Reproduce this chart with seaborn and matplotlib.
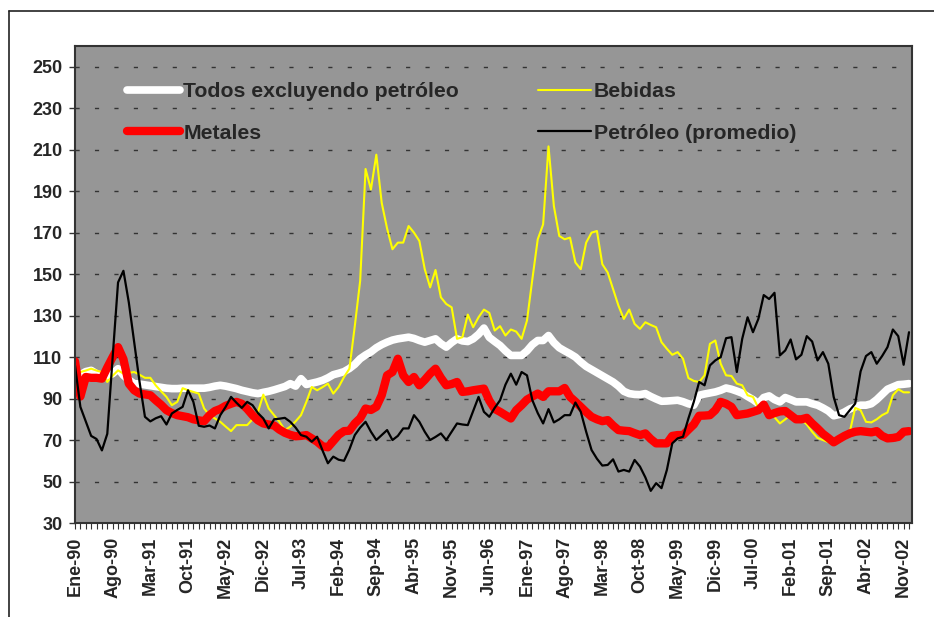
import numpy as np
import pandas as pd
import matplotlib
matplotlib.use("Agg")
import matplotlib.pyplot as plt
import seaborn as sns
from matplotlib.lines import Line2D

# Etiquetas del eje x (cada 7 meses)
tick_labels = ["Ene-90", "Ago-90", "Mar-91", "Oct-91", "May-92", "Dic-92", "Jul-93",
               "Feb-94", "Sep-94", "Abr-95", "Nov-95", "Jun-96", "Ene-97", "Ago-97",
               "Mar-98", "Oct-98", "May-99", "Dic-99", "Jul-00", "Feb-01", "Sep-01",
               "Abr-02", "Nov-02"]

# Series mensuales Ene-90 .. Dic-02
todos = [99, 101.5, 103, 103.6, 102, 100.4, 101, 102, 104.4, 101.2,
         99, 97.2, 97, 96.6, 96.2, 95.8, 95.4, 95, 94.8, 94.8,
         95, 95, 95, 95, 95, 95.4, 96, 96.4, 96, 95.4,
         94.8, 94, 93.4, 92.8, 92.4, 93, 93.5, 94.2, 95, 95.8,
         97.2, 96, 99.6, 96.8, 97.4, 98, 98.8, 100, 101.5, 102.2,
         103, 104.5, 106.5, 109.2, 111, 112.5, 114.5, 116, 117.2, 118.2,
         118.8, 119.2, 119.6, 119, 118, 117.2, 118, 118.8, 116.5, 114.8,
         117, 118.8, 117.8, 117.5, 118.8, 121, 124, 119.5, 117.5, 115.6,
         113, 110.8, 110.8, 110.8, 113, 116, 118, 118, 120.4, 117,
         114.5, 113, 111.6, 110, 107.6, 105.5, 104, 102.5, 101, 99.5,
         98, 96, 93.5, 92.4, 92, 91.9, 92.4, 91, 89.8, 88.7,
         88.8, 89, 89.2, 88.5, 87.5, 86.8, 91.6, 92.2, 92.7, 93.2,
         94, 95.1, 94.5, 93.6, 92.6, 91, 89.5, 87.6, 90.5, 91.3,
         89.5, 88.4, 90.5, 89.5, 88.4, 88.4, 88.4, 87.5, 86.8, 85.5,
         84, 81.7, 82.3, 83.5, 85, 86, 86.8, 86.8, 87.5, 89.5,
         92, 94.5, 95.6, 96.7, 96.9, 97.2]

bebidas = [100, 102.8, 103.5, 104.4, 103.5, 102.8, 98, 101, 103.6, 102,
           102.4, 102.8, 101.5, 100, 100, 96.4, 93.5, 90.8, 86.8, 88.4,
           95, 94, 93.2, 92.4, 85.2, 82, 80.4, 78.8, 76.5, 74.3,
           77.2, 77.2, 77.2, 80, 83.6, 91.9, 85.2, 82, 78.8, 74.8,
           76.4, 79, 82, 88.4, 95.6, 94, 95.5, 97.2, 92.4, 95.6,
           100.4, 104.4, 125, 146.8, 200.7, 190.8, 207.6, 184.4, 172, 162,
           165.2, 165.2, 173.2, 170, 166, 152.4, 143.6, 152, 138.8, 135.6,
           134, 118.8, 119.6, 130.5, 124.4, 129.2, 132.9, 131.3, 122.8, 124.9,
           120.4, 123.3, 122.3, 118.8, 127.6, 147.6, 166.8, 174, 211.6, 182.8,
           168.4, 166.8, 167.6, 155.6, 152.4, 165.2, 170, 170.8, 154.8, 150.8,
           142.8, 134.8, 128.4, 132.9, 126, 123.6, 126.8, 125.5, 124.4, 117.2,
           114, 111.1, 112.4, 109.2, 99.9, 98.5, 98, 101.2, 116.4, 118,
           106.8, 101.2, 100.9, 97.2, 96.4, 91.6, 90.8, 85.5, 84.5, 83.6,
           81, 78, 80, 82, 81, 80, 77.5, 74, 71, 70,
           69, 70, 71, 72, 74, 85.5, 84.4, 78.8, 78.5, 80,
           82, 83.3, 91.6, 94.5, 93, 93]

metales = [108, 91, 100.4, 100, 100, 99.6, 105, 110, 114.8, 109,
           97.2, 94, 92.4, 92, 91.6, 89.2, 87, 84.4, 83, 82,
           81.5, 81, 80, 79.5, 79.1, 82, 84, 85, 86.5, 87.5,
           88.4, 87.5, 85, 82, 79.5, 78, 77.5, 77, 75, 73.5,
           72.5, 71.8, 72, 72.4, 70.8, 69.2, 67, 66.5, 69.5, 72.5,
           74.3, 74.5, 78, 80.5, 85.2, 84.5, 86, 91.6, 101.2, 102.8,
           109.2, 101.2, 98, 100.4, 96.4, 99, 102, 104.4, 100, 96.4,
           97, 98, 93.2, 93.5, 94, 94.4, 94.8, 89, 85, 83.6,
           82, 80.4, 84.4, 86.8, 89.5, 91, 92.4, 90.8, 93.5, 93.5,
           93.5, 95.1, 90.8, 88.5, 86, 83.5, 81.2, 80, 79.1, 79.6,
           77, 74.8, 74.5, 74.3, 73.3, 72.4, 73.2, 70.5, 68.4, 68.4,
           68.4, 72, 72.4, 72.4, 75, 77.5, 81.7, 81.8, 82, 84.4,
           88.4, 87.5, 86, 82, 82.4, 82.8, 83.6, 84.4, 87.1, 82,
           83, 83.8, 84, 82, 80, 80, 80.7, 78, 75.6, 73,
           71, 68.9, 70.5, 72, 73.2, 74, 74.3, 74, 73.7, 74.3,
           72, 70.8, 71, 71.5, 74, 74.3]

petroleo = [106, 86, 79, 72, 70.5, 65, 73, 110, 146, 151.6,
            136.4, 117, 98, 81.2, 79, 80.5, 81.5, 77.5, 82.8, 84.5,
            86, 94, 88.4, 76.9, 76.4, 77, 75.6, 82, 86, 90.8,
            88, 85.5, 88.4, 86.8, 83, 80.4, 75.6, 80, 80.3, 80.7,
            78.8, 76, 72.4, 71.6, 69.2, 71.6, 65, 58.8, 62, 60.5,
            60, 65.5, 72.4, 76, 78.8, 74, 70, 72.4, 74.8, 70,
            72, 75.6, 75.6, 82, 78.8, 74, 70, 71.5, 73.2, 70,
            74, 78, 77.5, 77.2, 84, 90.8, 83.6, 81.2, 85.5, 89.2,
            96.7, 102, 96.7, 102.8, 101.2, 89.2, 83, 78, 84.9, 78.5,
            80, 82, 82, 88.1, 83.6, 74, 65.2, 61, 57.7, 58,
            60.7, 54.8, 55.6, 54.8, 60.4, 57.2, 52, 45.5, 49.2, 46.8,
            55.6, 68.4, 70.8, 71.6, 80.4, 88.4, 98, 96.4, 106, 108.4,
            110, 119.1, 119.6, 102.8, 118.8, 129.2, 122, 128.4, 139.9, 138,
            141, 110.8, 113.2, 118.5, 108.9, 111.1, 120.1, 117.5, 108.4, 112.4,
            106.8, 90.8, 82, 81.2, 84.4, 87.6, 103.1, 110.5, 112.4, 106.8,
            110.5, 114.8, 123.3, 120.1, 106.3, 122]

df = pd.DataFrame({
    "mes": np.arange(len(todos)),
    "Todos excluyendo petróleo": todos,
    "Bebidas": bebidas,
    "Metales": metales,
    "Petróleo (promedio)": petroleo,
})

sns.set_style("white")
plt.rcParams["font.family"] = ["Liberation Sans", "DejaVu Sans"]
plt.rcParams["font.weight"] = "bold"

W, H = 934, 617
fig = plt.figure(figsize=(W / 100, H / 100), dpi=100)
ax = fig.add_axes([75 / W, 1 - 523 / H, (911.7 - 75) / W, (523 - 46) / H])
ax.set_facecolor("#969696")

# orden de dibujo de Excel: Todos, Bebidas, Metales, Petróleo
series = [("Todos excluyendo petróleo", "white", 5.5),
          ("Bebidas", "#ffff00", 1.5),
          ("Metales", "#ff0000", 6.0),
          ("Petróleo (promedio)", "black", 1.6)]
for nombre, color, lw in series:
    sns.lineplot(data=df, x="mes", y=nombre, color=color, linewidth=lw, ax=ax,
                 solid_joinstyle="round", solid_capstyle="round", legend=False)

ax.set_xlim(0, 155.5)
ax.set_ylim(30, 260)
ax.set_yticks(np.arange(30, 251, 20))
ax.set_xticks(np.arange(0, len(todos), 7))
ax.set_xticks(np.arange(0, len(todos)), minor=True)
ax.set_xticklabels(tick_labels, rotation=90, fontsize=13, fontweight="bold")
ax.set_yticklabels([str(v) for v in range(30, 251, 20)], fontsize=13, fontweight="bold")
ax.set_xlabel("")
ax.set_ylabel("")

ax.set_axisbelow(True)
ax.yaxis.grid(True, color="#333333", linestyle=(0, (3, 11)), linewidth=1.0)
ax.xaxis.grid(False)

for s in ax.spines.values():
    s.set_visible(True)
    s.set_color("#333333")
    s.set_linewidth(1.5)

ax.tick_params(axis="y", direction="out", length=4, width=1, color="#333333", pad=5, left=True)
ax.tick_params(axis="x", which="both", direction="out", length=4, width=0.8,
               color="#333333", pad=6, bottom=True)

handles = [Line2D([0], [0], color="white", lw=5.5, solid_capstyle="round"),
           Line2D([0], [0], color="#ff0000", lw=6.0, solid_capstyle="round"),
           Line2D([0], [0], color="#ffff00", lw=1.5),
           Line2D([0], [0], color="black", lw=1.6)]
labels = ["Todos excluyendo petróleo", "Metales", "Bebidas", "Petróleo (promedio)"]
ax.legend(handles, labels, ncol=2, loc="upper left", bbox_to_anchor=(0.062, 0.924),
          frameon=False, prop={"size": 15.3, "weight": "bold"}, handlelength=2.5,
          handletextpad=0.15, columnspacing=3.7, labelspacing=1.05,
          borderpad=0, borderaxespad=0)

# borde exterior del gráfico
fig.add_artist(Line2D([9 / W, 9 / W], [0, 1 - 11 / H], transform=fig.transFigure,
                      color="#222222", lw=1.2))
fig.add_artist(Line2D([9 / W, 1], [1 - 11 / H, 1 - 11 / H], transform=fig.transFigure,
                      color="#222222", lw=1.2))

fig.savefig("out.png", dpi=100)
